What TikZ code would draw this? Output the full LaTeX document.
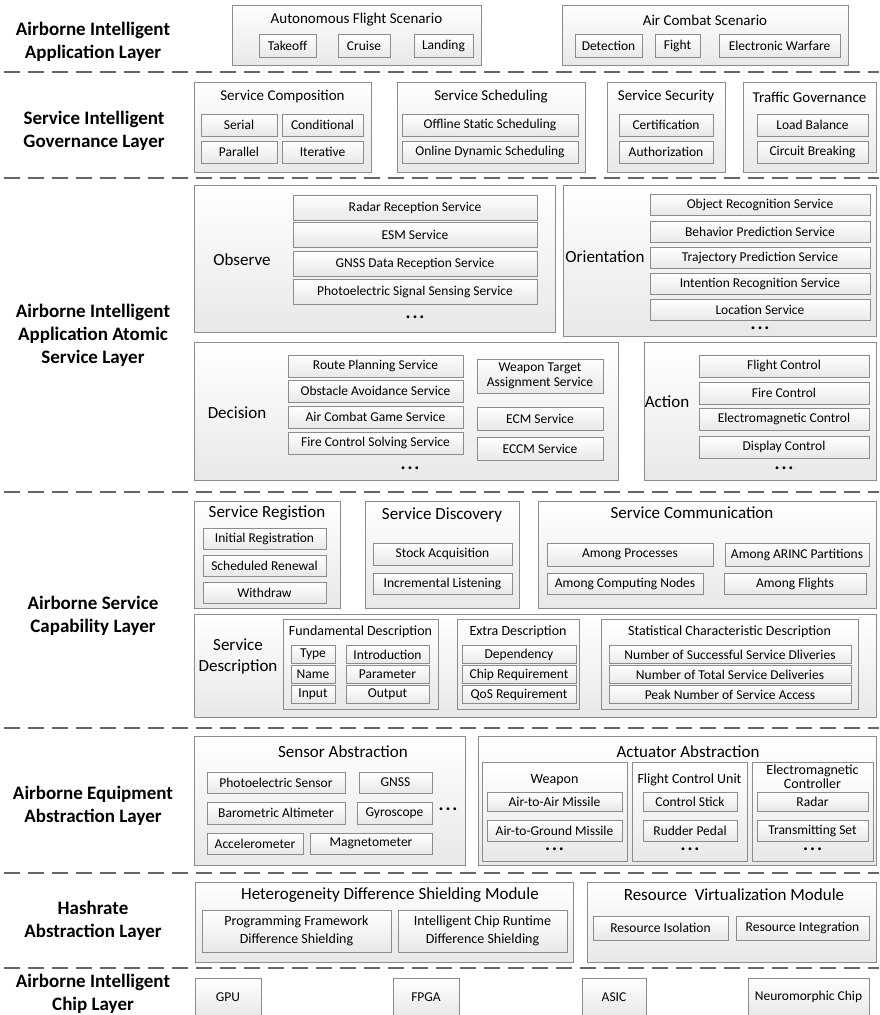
\documentclass[tikz,border=0pt]{standalone}
\usepackage{fontspec}
\setmainfont{Carlito}

\begin{document}
\begin{tikzpicture}[x=1pt, y=-1pt]
\tikzset{ box/.style={draw=black!45, line width=0.8pt, top color=white, bottom color=black!9, inner sep=0pt},
  item/.style={box, font=\fontsize{13.5}{15}\selectfont, align=center},
  wh/.style 2 args={minimum width=#1pt, minimum height=#2pt},
  lay/.style={font=\fontsize{19}{23}\selectfont\bfseries, align=center, inner sep=0pt},
  ttl/.style={font=\fontsize{15}{17}\selectfont, align=center, inner sep=0pt},
  big/.style={font=\fontsize{17}{21}\selectfont, align=center, inner sep=0pt},
  sub/.style={font=\fontsize{14}{14}\selectfont, align=center, inner sep=0pt},
  more/.style={font=\fontsize{8}{8}\selectfont, inner sep=0pt},
  layersep/.style={line width=2pt, black!60, dash pattern=on 16pt off 8pt},
}
\useasboundingbox (0,0) rectangle (879,1015);

% layer names
\node [lay] (L1) at (93,42)  {Airborne Intelligent\\Application Layer};
\node [lay] (L2) at (94,131) {Service Intelligent\\Governance Layer};
\node [lay] (L3) at (93,335) {Airborne Intelligent\\Application Atomic\\Service Layer};
\node [lay] (L4) at (93,616) {Airborne Service\\Capability Layer};
\node [lay] (L5) at (93,806) {Airborne Equipment\\Abstraction Layer};
\node [lay] (L6) at (93,921) {Hashrate\\Abstraction Layer};
\node [lay] (L7) at (93,994) {Airborne Intelligent\\Chip Layer};

\draw [layersep] (4,72)  -- (879,72);
\draw [layersep] (4,178) -- (879,178);
\draw [layersep] (4,492) -- (879,492);
\draw [layersep] (4,728) -- (879,728);
\draw [layersep] (4,873) -- (879,873);
\draw [layersep] (4,968) -- (879,968);

% application layer
\node [box, wh={249}{60}] (AFS) at (356.5,35) {};
\node [ttl] (AFSt) at (356.5,20) {Autonomous Flight Scenario};
\node [item, wh={57}{23}] (takeoff) at (287.5,45.5) {Takeoff};
\node [item, wh={52}{23}] (cruise)  at (364,45.5)   {Cruise};
\node [item, wh={59}{23}] (landing) at (443.5,45.5) {Landing};

\node [box, wh={286}{60}] (ACS) at (705,35) {};
\node [ttl] (ACSt) at (705,20) {Air Combat Scenario};
\node [item, wh={67}{23}]  (detect) at (608.5,45.5) {Detection};
\node [item, wh={45}{23}]  (fight)  at (677.5,45.5) {Fight};
\node [item, wh={121}{23}] (EW)     at (779.5,45.5) {Electronic Warfare};

% governance layer
\node [box, wh={177}{90}] (comp) at (282.5,127) {};
\node [ttl] (compt) at (282.5,97) {Service Composition};
\node [item, wh={76}{22}] (serial) at (239,125)   {Serial};
\node [item, wh={81}{22}] (cond)   at (322.5,125) {Conditional};
\node [item, wh={76}{22}] (para)   at (239,152)   {Parallel};
\node [item, wh={81}{22}] (iter)   at (322.5,152) {Iterative};

\node [box, wh={188}{90}] (sched) at (491,127) {};
\node [ttl] (schedt) at (491,97) {Service Scheduling};
\node [item, wh={176}{22}] (offline) at (490,125) {Offline Static Scheduling};
\node [item, wh={176}{22}] (online)  at (490,152) {Online Dynamic Scheduling};

\node [box, wh={118}{90}] (sec) at (666,127) {};
\node [ttl] (sect) at (666,97) {Service Security};
\node [item, wh={94}{22}] (cert) at (666,125) {Certification};
\node [item, wh={94}{22}] (auth) at (666,152) {Authorization};

\node [box, wh={133}{90}] (traffic) at (809.5,127) {};
\node [ttl] (traffict) at (809.5,97) {Traffic Governance};
\node [item, wh={111}{22}] (load)    at (812.5,125) {Load Balance};
\node [item, wh={111}{22}] (circuit) at (812.5,152) {Circuit Breaking};

% atomic service layer
\node [box, wh={361}{147}] (obs) at (374.5,258.5) {};
\node [big] (obst) at (242,260) {Observe};
\node [item, wh={244}{25}] (radar) at (415,207.5) {Radar Reception Service};
\node [item, wh={244}{25}] (esm)   at (415,234.5) {ESM Service};
\node [item, wh={244}{25}] (gnss)  at (415,264)   {GNSS Data Reception Service};
\node [item, wh={244}{25}] (photo) at (415,291.5) {Photoelectric Signal Sensing Service};
\node [more] (obsm) at (415,318) {\textbullet\hspace{3pt}\textbullet\hspace{3pt}\textbullet};

\node [box, wh={313}{151}] (ori) at (719.5,260.5) {};
\node [big] (orit) at (605,257) {Orientation};
\node [item, wh={220}{21}] (object) at (760,205) {Object Recognition Service};
\node [item, wh={220}{21}] (behav)  at (760,232) {Behavior Prediction Service};
\node [item, wh={220}{21}] (traj)   at (760,258) {Trajectory Prediction Service};
\node [item, wh={220}{21}] (intent) at (760,284) {Intention Recognition Service};
\node [item, wh={220}{21}] (locat)  at (760,310) {Location Service};
\node [more] (orim) at (760,329) {\textbullet\hspace{3pt}\textbullet\hspace{3pt}\textbullet};

\node [box, wh={424}{138}] (dec) at (406,411) {};
\node [big] (dect) at (237,413) {Decision};
\node [item, wh={175}{22}] (route)    at (375.5,366) {Route Planning Service};
\node [item, wh={175}{22}] (obstacle) at (375.5,391) {Obstacle Avoidance Service};
\node [item, wh={175}{22}] (game)     at (375.5,417) {Air Combat Game Service};
\node [item, wh={175}{22}] (solve)    at (375.5,443) {Fire Control Solving Service};
\node [item, wh={126}{34}] (wta)  at (540,376)   {Weapon Target\\Assignment Service};
\node [item, wh={126}{23}] (ecm)  at (540,418.5) {ECM Service};
\node [item, wh={126}{23}] (eccm) at (540,448.5) {ECCM Service};
\node [more] (decm) at (410,469) {\textbullet\hspace{3pt}\textbullet\hspace{3pt}\textbullet};

\node [box, wh={232}{138}] (act) at (760,411) {};
\node [big] (actt) at (667,402) {Action};
\node [item, wh={170}{22}] (flightc) at (784,366) {Flight Control};
\node [item, wh={170}{22}] (firec)   at (784,393) {Fire Control};
\node [item, wh={170}{22}] (emctrl)  at (784,419) {Electromagnetic Control};
\node [item, wh={170}{22}] (display) at (784,447) {Display Control};
\node [more] (actm) at (784,469) {\textbullet\hspace{3pt}\textbullet\hspace{3pt}\textbullet};

% capability layer
\node [box, wh={146}{107}] (reg) at (267,554.5) {};
\node [big] (regt) at (267,513) {Service Registion};
\node [item, wh={123}{21}] (initial)  at (264.5,538.5) {Initial Registration};
\node [item, wh={123}{21}] (renewal)  at (264.5,565.5) {Scheduled Renewal};
\node [item, wh={123}{21}] (withdraw) at (264.5,592.5) {Withdraw};

\node [box, wh={154}{107}] (disc) at (442,554.5) {};
\node [big] (disct) at (442,515) {Service Discovery};
\node [item, wh={139}{22}] (stock) at (442.5,554)   {Stock Acquisition};
\node [item, wh={139}{21}] (incr)  at (442.5,583.5) {Incremental Listening};

\node [box, wh={338}{107}] (comm) at (707,554.5) {};
\node [big] (commt) at (692,513) {Service Communication};
\node [item, wh={166}{23}] (amproc)    at (630,554.5) {Among Processes};
\node [item, wh={144}{23}] (amarinc)   at (797,554.5) {Among ARINC Partitions};
\node [item, wh={156}{21}] (amnodes)   at (625,583.5) {Among Computing Nodes};
\node [item, wh={142}{21}] (amflights) at (795,583.5) {Among Flights};

\node [box, wh={682}{103}] (desc) at (535,665.5) {};
\node [big] (desct) at (238,657) {Service\\Description};

\node [box, wh={155}{90}] (fund) at (360.5,664) {};
\node [sub] (fundt) at (360.5,632) {Fundamental Description};
\node [item, wh={44}{18}] (type)  at (313,654.5) {Type};
\node [item, wh={44}{18}] (name)  at (313,674.5) {Name};
\node [item, wh={44}{18}] (input) at (313,694.5) {Input};
\node [item, wh={83}{18}] (intro)  at (387.5,654.5) {Introduction};
\node [item, wh={83}{18}] (param)  at (387.5,674.5) {Parameter};
\node [item, wh={83}{18}] (output) at (387.5,694.5) {Output};

\node [box, wh={122}{90}] (extra) at (518,664) {};
\node [sub] (extrat) at (518,632) {Extra Description};
\node [item, wh={114}{18}] (depend)  at (519,654.5) {Dependency};
\node [item, wh={114}{18}] (chipreq) at (519,674.5) {Chip Requirement};
\node [item, wh={114}{18}] (qos)     at (519,694.5) {QoS Requirement};

\node [box, wh={257}{90}] (stat) at (729.5,664) {};
\node [sub] (statt) at (729.5,632) {Statistical Characteristic Description};
\node [item, wh={242}{18}] (succ)  at (730,654.5) {Number of Successful Service Dliveries};
\node [item, wh={242}{18}] (total) at (730,674.5) {Number of Total Service Deliveries};
\node [item, wh={242}{18}] (peak)  at (730,694.5) {Peak Number of Service Access};

% equipment abstraction layer
\node [box, wh={271}{129}] (sensor) at (329.5,800.5) {};
\node [big] (sensort) at (343,752) {Sensor Abstraction};
\node [item, wh={138}{21}] (photos) at (276,782.5)   {Photoelectric Sensor};
\node [item, wh={73}{21}]  (gnsss)  at (395.5,782.5) {GNSS};
\node [item, wh={138}{22}] (baro)   at (276,813)     {Barometric Altimeter};
\node [item, wh={75}{22}]  (gyro)   at (394.5,813)   {Gyroscope};
\node [item, wh={96}{21}]  (accel)  at (255,843.5)   {Accelerometer};
\node [item, wh={122}{21}] (magnet) at (371,843.5)   {Magnetometer};
\node [more] (sensorm) at (448,810) {\textbullet\hspace{3pt}\textbullet\hspace{3pt}\textbullet};

\node [box, wh={398}{129}] (actu) at (677,800.5) {};
\node [big] (actut) at (688,752) {Actuator Abstraction};

\node [box, wh={145}{99}] (weapon) at (554.5,811.5) {};
\node [sub] (weapont) at (554.5,780) {Weapon};
\node [item, wh={135}{19}] (a2a) at (554.5,801.5) {Air-to-Air Missile};
\node [item, wh={135}{21}] (a2g) at (554.5,830.5) {Air-to-Ground Missile};
\node [more] (weaponm) at (554.5,850) {\textbullet\hspace{3pt}\textbullet\hspace{3pt}\textbullet};

\node [box, wh={115}{99}] (fcu) at (689.5,811.5) {};
\node [sub] (fcut) at (689.5,780) {Flight Control Unit};
\node [item, wh={94}{19}] (stick)  at (690,801.5) {Control Stick};
\node [item, wh={94}{21}] (rudder) at (690,830.5) {Rudder Pedal};
\node [more] (fcum) at (690,850) {\textbullet\hspace{3pt}\textbullet\hspace{3pt}\textbullet};

\node [box, wh={121}{99}] (emc) at (812.5,811.5) {};
\node [sub, font=\fontsize{14}{14}\selectfont] (emct) at (812.5,777) {Electromagnetic\\Controller};
\node [item, wh={111}{19}] (radara)   at (812.5,801.5) {Radar};
\node [item, wh={111}{21}] (transmit) at (812.5,830.5) {Transmitting Set};
\node [more] (emcm) at (812.5,850) {\textbullet\hspace{3pt}\textbullet\hspace{3pt}\textbullet};

% hashrate abstraction layer
\node [box, wh={378}{80}] (hetero) at (384,922) {};
\node [big] (heterot) at (390,895) {Heterogeneity Difference Shielding Module};
\node [item, wh={189}{42}, font=\fontsize{14}{18}\selectfont] (prog) at (296.5,931) {Programming Framework\\Difference Shielding};
\node [item, wh={169}{42}, font=\fontsize{14}{18}\selectfont] (icrt) at (482.5,931) {Intelligent Chip Runtime\\Difference Shielding};

\node [box, wh={289}{80}] (rvm) at (731.5,922) {};
\node [big] (rvmt) at (734,895) {Resource\ \ Virtualization Module};
\node [item, wh={135}{24}] (isol)  at (660.5,928) {Resource Isolation};
\node [item, wh={133}{24}] (integ) at (802.5,928) {Resource Integration};

% chip layer
\node [item, wh={66}{38}]  (gpu)   at (228,997)   {GPU};
\node [item, wh={66}{38}]  (fpga)  at (426,997)   {FPGA};
\node [item, wh={64}{38}]  (asic)  at (614,997)   {ASIC};
\node [item, wh={121}{38}] (neuro) at (808.5,997) {Neuromorphic Chip};

\end{tikzpicture}
\end{document}
